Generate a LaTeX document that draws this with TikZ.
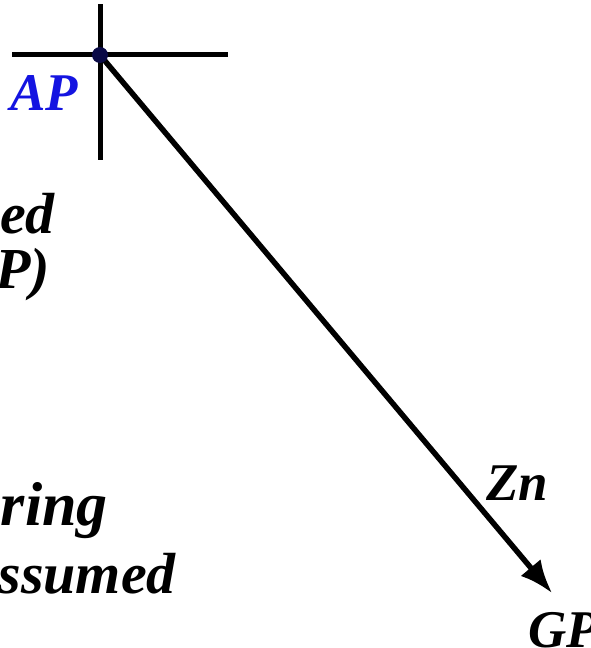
\documentclass[tikz,border=0pt]{standalone}
\usepackage{fontspec}
\setmainfont{Liberation Serif}
\usetikzlibrary{calc,arrows.meta,positioning}
\definecolor{apblue}{RGB}{20,20,225}
\definecolor{dotnavy}{RGB}{10,10,70}
\tikzset{
  hair/.style={line width=5pt,line cap=butt},
  labeltext/.style={font=\fontsize{53}{60}\selectfont\bfseries\itshape,inner sep=0pt},
  bodytext/.style={font=\fontsize{58}{66}\selectfont\bfseries\itshape,inner sep=0pt,anchor=base east}
}
\begin{document}
\begin{tikzpicture}[x=1pt,y=-1pt]
	\useasboundingbox (0,0) rectangle (590,648);
	\clip (0,0) rectangle (590,648);

	%% the point AP and its cross
	\coordinate (AP) at (100,55);
	\coordinate (HL) at (12,54); \coordinate (HR) at (228,54);
	\coordinate (VT) at (100,4); \coordinate (VB) at (100,160);
	\draw[hair] (HL) -- (HR);
	\draw[hair] (VT) -- (VB);

	%% zenith direction down to GP
	\coordinate (GPtip) at (552,593);
	\draw[line width=5.5pt,-{Latex[length=33pt,width=26pt]}] (AP) -- (GPtip);
	\node[circle,fill=dotnavy,inner sep=0pt,minimum size=16pt] (APdot) at (AP) {};

	%% labels
	\node[labeltext,text=apblue,anchor=base west] (APlabel) at (10,110) {AP};
	\node[labeltext,anchor=base west] (Znlabel) at (486,500) {Zn};
	\node[labeltext,anchor=base west] (GPlabel) at (528,647) {GP};

	%% cut-off text on the left
	\node[bodytext] (lineA) at (55,233) {ed};
	\node[bodytext] (lineB) at (50,288) {P)};
	\node[bodytext,font=\fontsize{62}{66}\selectfont\bfseries\itshape] (lineC) at (108,525) {ring};
	\node[bodytext] (lineD) at (176,593) {ssumed};
\end{tikzpicture}
\end{document}
